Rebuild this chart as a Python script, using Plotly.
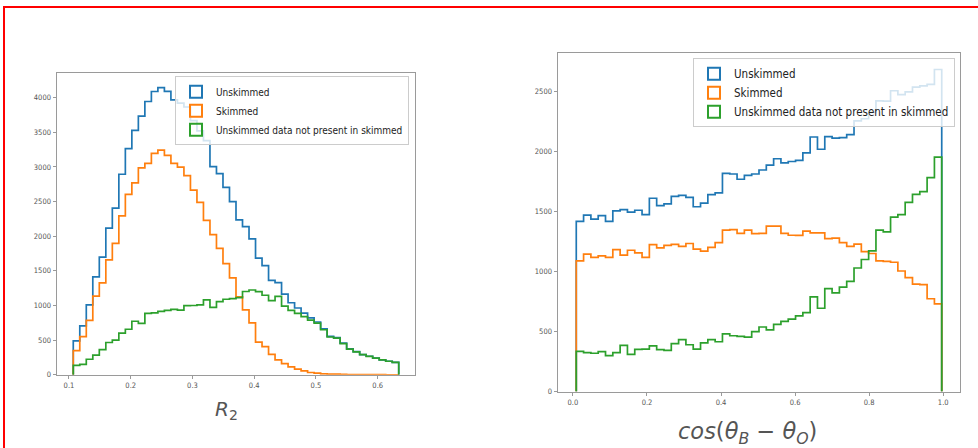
import numpy as np
import plotly.graph_objects as go

# ---------------- data ----------------
labels = ["Unskimmed", "Skimmed", "Unskimmed data not present in skimmed"]
colors = ["#1f77b4", "#ff7f0e", "#2ca02c"]

# Left panel: R2 histogram, 50 bins
r2_range = (0.107, 0.634)
r2_unskimmed = [488, 705, 1010, 1414, 1698, 2117, 2405, 2895, 3264, 3527,
                3733, 3945, 4090, 4147, 4092, 3970, 3922, 3866, 3670, 3520,
                3380, 3005, 2905, 2705, 2500, 2235, 2138, 1962, 1685, 1575,
                1362, 1330, 1165, 1040, 964, 890, 821, 762, 664, 555,
                538, 456, 374, 333, 292, 267, 241, 216, 195, 180]
r2_skimmed = [348, 552, 786, 1136, 1326, 1660, 1898, 2295, 2605, 2771,
              2986, 3052, 3195, 3243, 3167, 3052, 2997, 2876, 2665, 2490,
              2230, 2022, 1826, 1605, 1400, 1124, 938, 748, 471, 405,
              295, 214, 162, 114, 81, 57, 33, 24, 14, 10,
              8, 6, 4, 3, 2, 2, 1, 1, 0, 0]
r2_not_in_skim = [135, 150, 224, 284, 362, 466, 500, 600, 657, 773,
                  743, 885, 895, 915, 929, 943, 934, 998, 1000, 1008,
                  1081, 972, 1057, 1090, 1100, 1115, 1202, 1224, 1200, 1148,
                  1070, 1133, 990, 930, 885, 840, 790, 745, 650, 545,
                  530, 450, 370, 330, 290, 265, 240, 215, 195, 180]

# Right panel: cos(theta_B - theta_O) histogram, 50 bins
cos_range = (0.009, 0.996)
cos_unskimmed = [1417, 1470, 1436, 1466, 1418, 1505, 1515, 1494, 1510, 1473,
                 1610, 1548, 1563, 1625, 1634, 1618, 1539, 1569, 1640, 1655,
                 1817, 1812, 1768, 1800, 1812, 1845, 1886, 1939, 1905, 1916,
                 1926, 1987, 2120, 2018, 2123, 2110, 2114, 2140, 2255, 2272,
                 2325, 2420, 2418, 2505, 2472, 2495, 2535, 2545, 2558, 2682]
cos_skimmed = [1089, 1144, 1118, 1130, 1118, 1182, 1136, 1177, 1155, 1117,
               1223, 1196, 1218, 1226, 1210, 1233, 1186, 1169, 1201, 1241,
               1344, 1349, 1317, 1344, 1316, 1317, 1378, 1378, 1317, 1302,
               1300, 1336, 1322, 1322, 1273, 1278, 1240, 1210, 1228, 1165,
               1150, 1088, 1085, 1077, 1004, 949, 894, 890, 773, 730]
cos_not_in_skim = [335, 325, 319, 332, 300, 325, 385, 310, 352, 354,
                   380, 350, 343, 399, 432, 390, 354, 406, 432, 415,
                   480, 465, 459, 453, 500, 538, 514, 560, 584, 603,
                   630, 658, 788, 694, 858, 822, 870, 918, 1029, 1100,
                   1172, 1344, 1330, 1452, 1473, 1575, 1643, 1665, 1782, 1953]

r2_ticks = [0.1, 0.2, 0.3, 0.4, 0.5, 0.6]
r2_yticks = [0, 500, 1000, 1500, 2000, 2500, 3000, 3500, 4000]
cos_ticks = [0.0, 0.2, 0.4, 0.6, 0.8, 1.0]
cos_yticks = [0, 500, 1000, 1500, 2000, 2500]

# ---------------- helpers ----------------
W, H = 978, 448


def step_xy(rng, counts):
    edges = np.linspace(rng[0], rng[1], len(counts) + 1)
    # with hv shape: (e0,0)->(e0,v0)->...->(e50,v49)->(e50,0)
    xs = [edges[0], edges[0]] + list(edges[1:]) + [edges[-1]]
    ys = [0] + list(counts) + [counts[-1], 0]
    return xs, ys


def px_x(p):
    return p / W


def px_y(p):
    return 1 - p / H


fig = go.Figure()

panels = [
    ("x", "y", "legend", r2_range, [r2_unskimmed, r2_skimmed, r2_not_in_skim]),
    ("x2", "y2", "legend2", cos_range, [cos_unskimmed, cos_skimmed, cos_not_in_skim]),
]
for xa, ya, lg, rng, series in panels:
    for lab, col, cnt in zip(labels, colors, series):
        xs, ys = step_xy(rng, cnt)
        fig.add_trace(go.Scatter(x=xs, y=ys, mode="lines", line_shape="hv",
                                 line=dict(color=col, width=1.7),
                                 xaxis=xa, yaxis=ya, showlegend=False,
                                 hoverinfo="skip"))
    for lab, col in zip(labels, colors):
        fig.add_trace(go.Bar(x=[None], y=[None], name=lab, xaxis=xa, yaxis=ya,
                             marker=dict(color="rgba(0,0,0,0)",
                                         line=dict(color=col, width=2)),
                             legend=lg, showlegend=True))


def xrange_of(rng):
    w = rng[1] - rng[0]
    return [rng[0] - 0.05 * w, rng[1] + 0.05 * w]


tickfont = dict(family="DejaVu Sans Condensed, DejaVu Sans", size=7.5, color="#555")
axcommon = dict(showline=True, mirror=True, linecolor="#9a9a9a", linewidth=1,
                ticks="outside", ticklen=3.5, tickwidth=1, tickcolor="#9a9a9a",
                showgrid=False, zeroline=False, tickfont=tickfont)

legfont = "DejaVu Sans Condensed, Liberation Sans Narrow, DejaVu Sans"

fig.update_layout(
    width=W, height=H,
    margin=dict(l=0, r=0, t=0, b=0),
    paper_bgcolor="white", plot_bgcolor="white",
    xaxis=dict(domain=[px_x(57), px_x(415)], range=xrange_of(r2_range),
               tickvals=r2_ticks, ticktext=[f"{t:.1f}" for t in r2_ticks],
               anchor="y", **axcommon),
    yaxis=dict(domain=[px_y(379), px_y(74)], range=[0, max(r2_unskimmed) * 1.05],
               tickvals=r2_yticks, anchor="x", **axcommon),
    xaxis2=dict(domain=[px_x(558), px_x(960)], range=xrange_of(cos_range),
                tickvals=cos_ticks, ticktext=[f"{t:.1f}" for t in cos_ticks],
                anchor="y2", **axcommon),
    yaxis2=dict(domain=[px_y(396), px_y(54)], range=[0, max(cos_unskimmed) * 1.05],
                tickvals=cos_yticks, anchor="x2", **axcommon),
    legend=dict(x=px_x(409), y=px_y(77), xanchor="right", yanchor="top",
                bgcolor="rgba(255,255,255,0.8)", bordercolor="#cccccc", borderwidth=1,
                font=dict(family=legfont, size=10, color="#222"),
                tracegroupgap=0, itemwidth=30),
    legend2=dict(x=px_x(955), y=px_y(59), xanchor="right", yanchor="top",
                 bgcolor="rgba(255,255,255,0.8)", bordercolor="#cccccc", borderwidth=1,
                 font=dict(family=legfont, size=11.5, color="#222"),
                 tracegroupgap=0, itemwidth=30),
    showlegend=True,
    bargap=0,
)

fig.add_annotation(text="<i>R</i><sub>2</sub>", x=px_x(226), y=px_y(415),
                   xref="paper", yref="paper", xanchor="center", yanchor="middle",
                   showarrow=False,
                   font=dict(family="DejaVu Sans", size=20, color="#555"))
fig.add_annotation(text="<i>cos</i>(<i>θ</i><sub><i>B</i></sub> − <i>θ</i><sub><i>O</i></sub>)",
                   x=px_x(747), y=px_y(438), xref="paper", yref="paper",
                   xanchor="center", yanchor="middle", showarrow=False,
                   font=dict(family="DejaVu Sans", size=22.5, color="#555"))

# red frame around the figure
fig.add_shape(type="rect", xref="paper", yref="paper",
              x0=px_x(4), x1=px_x(W + 20), y0=px_y(H + 20), y1=px_y(7),
              line=dict(color="#ff0000", width=2), fillcolor="rgba(0,0,0,0)")

fig.write_html("out.html")
